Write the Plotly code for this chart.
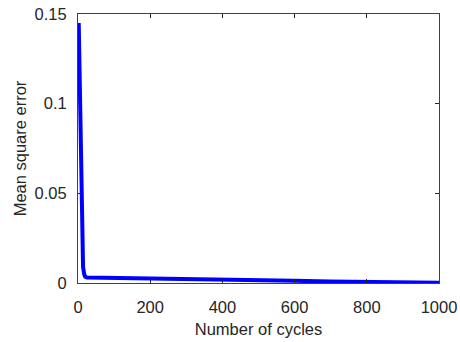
import plotly.graph_objects as go

cycles = [2, 4, 6, 8, 10, 12, 14, 17, 20, 25, 50, 100, 200, 300, 400, 500, 600, 700, 800, 900, 1000]
mse = [0.145, 0.12, 0.09, 0.065, 0.045, 0.02, 0.009, 0.005, 0.0035, 0.003, 0.0029, 0.0027,
       0.0024, 0.0021, 0.0018, 0.0015, 0.0012, 0.0009, 0.0006, 0.0003, 0.0001]

x_ticks = [0, 200, 400, 600, 800, 1000]
y_ticks = [0, 0.05, 0.1, 0.15]
y_tick_labels = ["0", "0.05", "0.1", "0.15"]

font = dict(family="Liberation Sans, Arial, sans-serif", size=16.5, color="#262626")

fig = go.Figure()
fig.add_trace(go.Scatter(x=cycles, y=mse, mode="lines",
                         line=dict(color="#0000ff", width=4), showlegend=False))

axis_common = dict(showline=True, linecolor="#404040", linewidth=1, mirror="allticks",
                   ticks="inside", ticklen=4, tickcolor="#262626", showgrid=False,
                   zeroline=False, tickfont=font, automargin=False)

fig.update_layout(
    width=460, height=342,
    margin=dict(l=78, r=21, t=14, b=59),
    paper_bgcolor="white", plot_bgcolor="white",
    font=font,
    xaxis=dict(range=[0, 1000], tickvals=x_ticks, ticklabelstandoff=9,
               title=dict(text="Number of cycles", font=font, standoff=8), **axis_common),
    yaxis=dict(range=[0, 0.15], tickvals=y_ticks, ticktext=y_tick_labels, ticklabelstandoff=7,
               title=dict(text="Mean square error", font=font, standoff=3), **axis_common),
)

fig.write_html("out.html")
